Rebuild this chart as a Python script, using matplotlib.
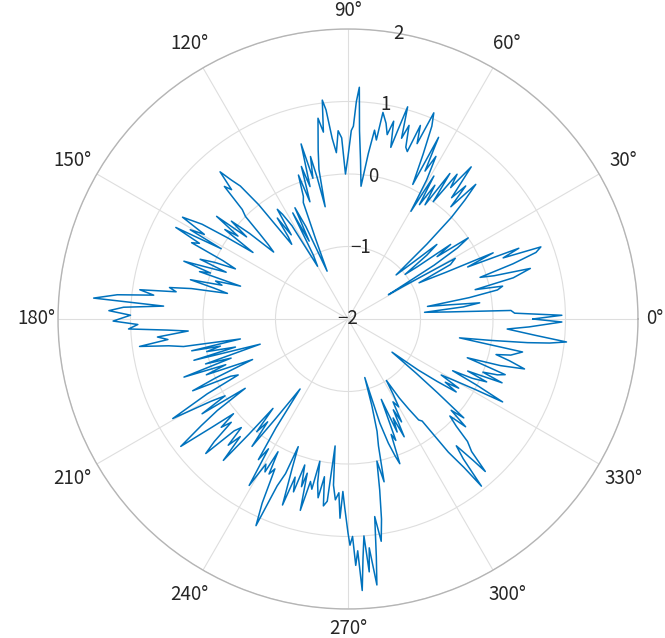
import numpy as np
import matplotlib
matplotlib.use('Agg')
import matplotlib.pyplot as plt

plt.rcParams['font.family'] = ['Noto Sans CJK JP', 'DejaVu Sans']

# angle (degrees) and radius values
theta_deg = [
    0, 1, 2, 3, 4, 5, 6, 7, 8, 9, 10, 11, 12, 13, 14, 15.5, 16.5, 17.5, 18.5, 19.5,
    20.5, 21.5, 22.5, 23.5, 24.5, 25.5, 27, 28, 29.5, 30.5, 31, 32, 33, 34, 35, 36, 37, 38, 39, 40,
    41, 42.5, 43.5, 44.5, 45.5, 46.5, 47.5, 48.5, 49.5, 51, 52, 53, 54, 55, 56, 57, 58, 59, 59.7, 60.5,
    61.6, 62.5, 63.5, 64.3, 65.5, 66.5, 67.4, 68.5, 69.5, 70.5, 71.4, 72.5, 73.5, 74.3, 75.2, 76, 77, 78, 79, 80.4,
    81, 82, 83, 84.4, 85.5, 86.5, 87.2, 87.8, 88.4, 89, 90, 91, 92, 93, 94, 95, 96, 96.7, 97.5, 98.5,
    99.3, 100, 101, 101.5, 102.3, 103, 104, 105, 106, 107, 108, 109, 110, 111, 112, 113.6, 114.5, 115.5, 116.5, 117.5,
    118.5, 120, 121, 122, 122.8, 124, 125, 126, 127, 128, 129, 130, 131, 132, 133, 134, 135, 136, 137, 138,
    139, 140, 141, 142, 143, 144, 145, 146, 147, 148.4, 149.5, 150.5, 151, 152, 153, 154, 155, 156, 157, 158,
    159, 160.6, 161.5, 162.3, 163, 164, 165, 166, 167, 168, 169, 170, 171, 172, 173, 174, 175.3, 176, 177, 178,
    179, 180.5, 181.5, 182.6, 183.5, 184.3, 185.4, 186.5, 187.5, 188.5, 189.5, 190.5, 191.5, 192, 193, 194, 195, 196, 197.5, 198.5,
    199.5, 200.5, 201.5, 203, 204, 204.8, 206, 207, 208, 209.6, 211, 212, 213, 214, 215, 216, 217.3, 218.5, 219.6, 220.5,
    221.5, 222.5, 223.4, 224.5, 225.5, 226.5, 227.5, 228.6, 229.3, 230, 231, 232, 233, 234, 235.6, 236.5, 237.5, 238.5, 239.3, 240.5,
    241.5, 242.2, 243, 244, 245, 246, 247, 248, 248.7, 249.5, 250.6, 251.5, 252.5, 253.5, 254.5, 255.2, 256, 257, 258, 258.8,
    259.5, 260.5, 261.5, 262.5, 263.5, 264.2, 265, 266, 267, 267.7, 268.3, 269, 270, 270.5, 271.2, 271.8, 272.4, 273, 273.6, 274.2,
    274.8, 275.3, 276.2, 276.8, 277.7, 278.5, 279.5, 280.5, 281.5, 282.5, 283.5, 284.5, 285.4, 286, 287, 288, 289, 289.7, 290.5, 291.5,
    292.5, 293.5, 294.5, 295.5, 296.5, 297.5, 298.5, 300, 301, 302, 303, 304, 305, 306, 307, 308, 308.6, 309.5, 310.5, 311.5,
    312, 313, 314.3, 315.3, 316.4, 317.5, 318.5, 319.5, 320.5, 321.5, 323, 324, 325, 326, 327, 328, 329, 330, 331, 331.8,
    332.8, 333.7, 334.5, 335.6, 336.5, 337.5, 338.5, 339.5, 340.5, 341.5, 342, 343, 344.2, 345.5, 346.5, 347.5, 349.3, 350.4, 351.5, 352.5,
    353.2, 354, 355, 356.4, 357.5, 359.2, 360,
]
r_vals = [
    0.55, 0.95, 0.3, 0.25, -0.6, -0.94, -0.4, -0.17, -0.6, -0.89, -0.3, 0.1, 0.18, -0.2, 0.35, 0.61, 0.1, -0.09, 0.4, 0.75,
    0.84, 0.3, 0.55, -0.2, 0.2, -0.5, -0.9, -0.4, -0.3, -1.1, -1.35, -0.6, -0.2, 0.0, -0.5, -0.25, -0.8, -1.0, -0.6, -0.4,
    -0.8, -1.1, -0.5, 0.0, 0.3, 0.56, 0.1, 0.45, 0.2, 0.7, 0.3, 0.5, 0.0, 0.45, -0.1, 0.2, -0.14, 0.3, -0.28, 0.2,
    0.55, 0.3, 0.8, 0.06, 0.5, 0.9, 1.08, 0.6, 0.85, 0.45, 0.5, 0.8, 0.6, 1.04, 0.7, 0.44, 0.8, 0.6, 0.75, 0.89,
    0.5, 0.63, 0.3, -0.16, 0.2, 0.6, 1.2, 1.0, 0.66, 0.6, 0.24, 0.0, 0.5, 0.6, 0.3, 0.5, 0.9, 1.04, 0.6, 0.8,
    0.55, 0.37, 0.1, -0.42, 0.0, 0.3, 0.0, 0.5, -0.1, 0.2, -0.3, 0.1, -0.2, -0.28, -0.8, -1.28, -0.6, -0.3, -0.8, -0.35,
    -1.0, -1.16, -0.5, -0.3, -0.2, -0.6, -0.3, -0.6, -0.71, 0.0, 0.36, 0.5, 0.69, 0.4, 0.5, 0.1, 0.0, -0.3, -0.5, -0.62,
    -0.2, 0.1, -0.2, 0.3, -0.1, 0.1, -0.4, 0.0, 0.4, 0.68, 0.3, 0.5, 0.0, 0.69, 0.3, 0.4, -0.1, -0.3, 0.0, 0.2,
    -0.2, 0.4, 0.0, 0.15, -0.45, -0.1, -0.2, 0.24, -0.1, -0.3, 0.2, 0.5, 0.4, 0.9, 0.7, 1.2, 1.52, 0.55, 1.1, 1.3,
    1.0, 1.24, 0.9, 1.03, 0.5, 0.21, 0.64, 0.5, 0.9, 0.5, 0.3, -0.49, 0.2, -0.2, 0.0, -0.4, 0.2, -0.74, 0.06, -0.3,
    0.4, -0.2, 0.1, -0.57, 0.0, 0.36, -0.2, -0.3, 0.2, 0.78, 0.2, 0.0, 0.4, -0.29, 0.2, 0.5, 0.9, 0.4, 0.05, 0.3,
    0.15, 0.5, 0.7, 0.2, 0.1, 0.4, 0.2, 0.6, 0.1, -0.39, 0.0, -0.2, 0.2, -0.3, -0.83, -0.2, 0.3, 0.1, 0.67, 0.3,
    0.4, 0.07, 0.4, 0.3, 0.8, 1.12, 0.5, 0.3, -0.11, 0.2, 0.72, 0.3, 0.5, 0.1, 0.4, 0.2, 0.72, 0.3, 0.4, 0.0,
    0.3, 0.5, 0.2, 0.6, 0.53, -0.24, 0.3, 0.5, 0.4, 0.75, 0.38, 0.6, 0.95, 1.12, 1.0, 1.4, 1.2, 1.75, 1.3, 1.0,
    1.5, 1.17, 1.69, 1.3, 0.75, 1.1, 0.8, 0.4, 0.0, 0.3, -0.2, -0.4, -0.76, -1.16, -0.5, -0.2, 0.0, 0.12, -0.3, -0.2,
    -0.8, -0.3, -0.5, -0.2, -0.6, -0.4, -0.7, -0.6, -0.8, -1.0, -0.7, -0.5, -0.3, -0.26, 0.3, 0.6, 0.95, 0.5, 0.3, 0.6,
    0.83, 0.5, 0.36, 0.1, -0.06, 0.2, -0.1, 0.1, -0.4, -0.8, -1.24, -0.8, -0.5, -0.2, -0.4, -0.2, -0.5, -0.3, 0.0, 0.42,
    0.0, -0.39, -0.1, 0.1, -0.2, 0.3, 0.0, 0.2, 0.3, -0.1, -0.27, 0.2, 0.53, 0.3, 0.1, 0.3, 0.45, -0.44, 0.0, 0.5,
    0.8, 1.03, 0.6, 0.2, 0.5, 0.95, 0.55,
]

theta_ticks = [0, 30, 60, 90, 120, 150, 180, 210, 240, 270, 300, 330]
r_ticks = [-2, -1, 0, 1, 2]
r_tick_labels = ['\u22122', '\u22121', '0', '1', '2']

fig = plt.figure(figsize=(6.65, 6.38), dpi=100)
# centre at (348, 319) px, radius 290 px
ax = fig.add_axes([58 / 665, 29 / 638, 580 / 665, 580 / 638], projection='polar')

ax.plot(np.deg2rad(theta_deg), r_vals, color='#0072BD', linewidth=1.1)

ax.set_ylim(-2, 2)
ax.set_yticks(r_ticks)
ax.set_yticklabels([])
for rv, lab in zip(r_ticks, r_tick_labels):
    ax.text(np.deg2rad(80), rv, lab, ha='center', va='center', fontsize=13.5, color='#262626')

# angle labels placed by hand so their centres sit like MATLAB's
ax.set_thetagrids(theta_ticks, [''] * len(theta_ticks))
label_dist_px = [307, 318, 318, 309, 318, 318, 312, 318, 318, 310, 318, 318]
for t, d in zip(theta_ticks, label_dist_px):
    ax.text(np.deg2rad(t), -2 + 4 * d / 290, f'{t}\u00b0', ha='center', va='center',
            fontsize=13.5, color='#262626')

ax.grid(True, color='#dedede', linewidth=0.8)
ax.spines['polar'].set_color('#b5b5b5')
ax.spines['polar'].set_linewidth(1.0)

fig.savefig('out.png', dpi=100)
